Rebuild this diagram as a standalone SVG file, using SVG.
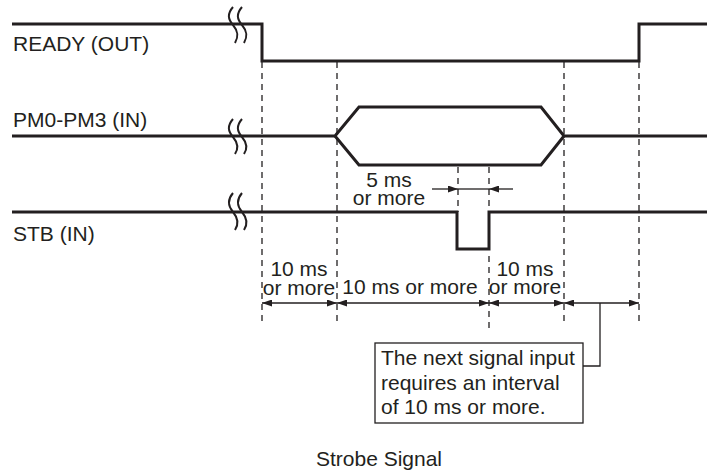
<svg xmlns="http://www.w3.org/2000/svg" width="707" height="474" viewBox="0 0 707 474">
<defs>
<style>
.sig{fill:none;stroke:#231f20;stroke-width:3;stroke-linejoin:miter;stroke-linecap:butt}
.brk{fill:none;stroke:#231f20;stroke-width:2}
.dash{fill:none;stroke:#231f20;stroke-width:1.3;stroke-dasharray:6 5}
.dim{fill:none;stroke:#231f20;stroke-width:1.3}
.t{font-family:"Liberation Sans",Arial,sans-serif;font-size:21px;fill:#231f20}
.m{text-anchor:middle}
</style>
<marker id="ah" viewBox="0 0 10 7" refX="10" refY="3.5" markerWidth="10" markerHeight="7" markerUnits="userSpaceOnUse" orient="auto-start-reverse">
<path d="M0,0 L10,3.5 L0,7 z" fill="#231f20"/>
</marker>
</defs>
<rect width="707" height="474" fill="#fff"/>

<g id="guides">
<line class="dash" x1="262" y1="62" x2="262" y2="326"/>
<line class="dash" x1="337" y1="62" x2="337" y2="326"/>
<line class="dash" x1="458" y1="167" x2="458" y2="212"/>
<line class="dash" x1="489" y1="167" x2="489" y2="212"/>
<line class="dash" x1="489" y1="256" x2="489" y2="328"/>
<line class="dash" x1="564" y1="62" x2="564" y2="326"/>
<line class="dash" x1="639" y1="62" x2="639" y2="326"/>
</g>

<g id="ready">
<polyline class="sig" points="12,24 262,24 262,61 639,61 639,24 707,24"/>
<path class="brk" d="M233,7 C227,14 228,19 233,25 C238,31 239,36 235,43 M242,7 C236,14 237,19 242,25 C247,31 248,36 244,43" />
<text class="t" x="13" y="51">READY (OUT)</text>
</g>

<g id="pm">
<polyline class="sig" points="12,136 335,136 359,107 541,107 564,136 707,136"/>
<polyline class="sig" points="335,136 359,165 541,165 564,136"/>
<path class="brk" d="M233,119 C227,126 228,131 233,137 C238,143 239,148 235,154 M242,119 C236,126 237,131 242,137 C247,143 248,148 244,154" />
<text class="t" x="13" y="127">PM0-PM3 (IN)</text>
</g>

<g id="stb">
<polyline class="sig" points="12,212 457,212 457,249 489,249 489,212 707,212"/>
<path class="brk" d="M233,193 C227,200 228,206 233,212 C238,218 239,224 235,230 M242,193 C236,200 237,206 242,212 C247,218 248,224 244,230" />
<text class="t" x="13" y="241">STB (IN)</text>
</g>

<g id="connectors">
<line class="dim" x1="432" y1="189" x2="458" y2="189" marker-end="url(#ah)"/>
<line class="dim" x1="458" y1="189" x2="489" y2="189"/>
<line class="dim" x1="513" y1="189" x2="489" y2="189" marker-end="url(#ah)"/>
<line class="dim" x1="262" y1="303" x2="337" y2="303" marker-start="url(#ah)" marker-end="url(#ah)"/>
<line class="dim" x1="337" y1="303" x2="489" y2="303" marker-start="url(#ah)" marker-end="url(#ah)"/>
<line class="dim" x1="489" y1="303" x2="564" y2="303" marker-start="url(#ah)" marker-end="url(#ah)"/>
<line class="dim" x1="564" y1="303" x2="639" y2="303" marker-start="url(#ah)" marker-end="url(#ah)"/>
<polyline class="dim" points="600,303 600,366 583,366"/>
</g>

<g id="labels">
<text class="t m" x="389" y="187">5 ms</text>
<text class="t m" x="389" y="205">or more</text>
<text class="t m" x="299" y="276">10 ms</text>
<text class="t m" x="299" y="295">or more</text>
<text class="t m" x="410" y="294">10 ms or more</text>
<text class="t m" x="525" y="276">10 ms</text>
<text class="t m" x="525" y="294">or more</text>
</g>

<g id="note">
<rect x="375" y="343" width="208" height="80" fill="#fff" stroke="#231f20" stroke-width="1.3"/>
<text class="t" x="381" y="365">The next signal input</text>
<text class="t" x="381" y="390">requires an interval</text>
<text class="t" x="381" y="414">of 10 ms or more.</text>
</g>

<text id="caption" class="t m" x="379" y="466">Strobe Signal</text>
</svg>
